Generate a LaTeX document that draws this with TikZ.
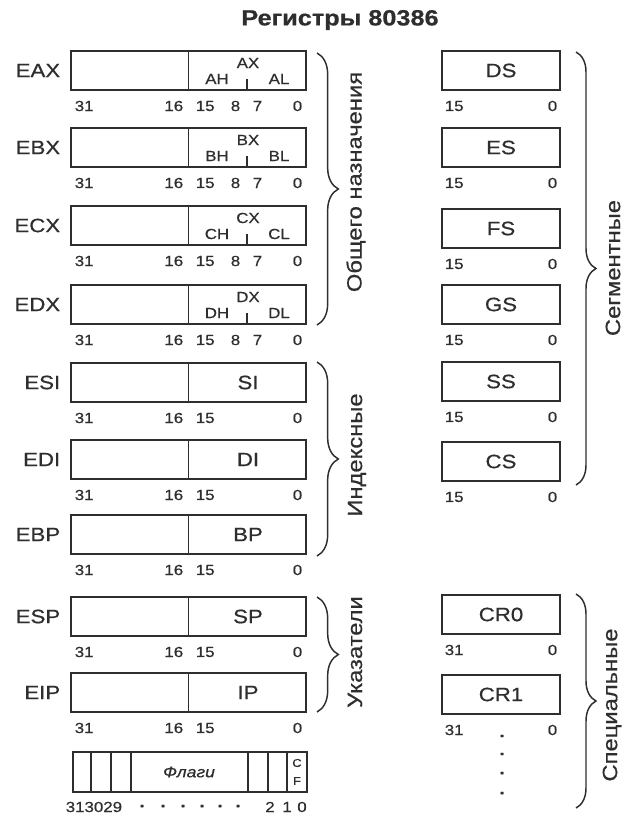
\documentclass[tikz,border=0pt]{standalone}
\usepackage{fontspec}
\setmainfont[FakeStretch=1.15,FakeBold=0.6]{Liberation Sans}
\usetikzlibrary{decorations.pathreplacing,calc}
\definecolor{ink}{HTML}{2E2E2E}
\begin{document}
\begin{tikzpicture}[x=0.75pt,y=-0.75pt,line width=1.2pt,draw=ink,text=ink,
  lreg/.style={draw=ink,minimum width=176.25pt,minimum height=29.25pt,inner sep=0pt,outer sep=0pt},
  rreg/.style={draw=ink,minimum width=88.5pt,minimum height=29.25pt,inner sep=0pt,outer sep=0pt,font=\fontsize{14.5}{15}\selectfont},
  reglab/.style={font=\fontsize{14.5}{15}\selectfont,anchor=east,inner sep=0pt},
  inlab/.style={font=\fontsize{14.5}{15}\selectfont,inner sep=0pt},
  sublab/.style={font=\fontsize{11}{11}\selectfont,inner sep=0pt},
  bitlab/.style={font=\fontsize{11}{12}\selectfont,inner sep=0pt},
  dotlab/.style={font=\bfseries\fontsize{12}{12}\selectfont,inner sep=0pt},
  sidelab/.style={font=\fontsize{15.5}{16}\selectfont,rotate=90,inner sep=0pt},
  bracedeco/.style={decorate,decoration={brace,amplitude=#1},line width=1.1pt}]
\useasboundingbox (0,0) rectangle (628,818);
% title
\node[font=\bfseries\fontsize{16.5}{17}\selectfont] (title) at (340,20) {Регистры 80386};
% general purpose registers
\foreach \n/\y/\a in {eax/51/A, ebx/128/B, ecx/206/C, edx/285/D} {
  \node[lreg] (\n) at (188.5,\y+19.5) {};
  \node[reglab] (\n-name) at (61,\y+19.5) {E\a X};
  \draw (\n.north) -- (\n.south);
  \coordinate (\n-mid) at ($(\n.south)!.5!(\n.south east)$);
  \draw (\n-mid) -- ++(0,-11);
  \node[sublab] (\n-x) at (248,\y+12) {\a X};
  \node[sublab] (\n-h) at (217,\y+28) {\a H};
  \node[sublab] (\n-l) at (279,\y+28) {\a L};
  \node[bitlab,anchor=west] (\n-b31) at (74,\y+55) {31};
  \node[bitlab,anchor=east] (\n-b16) at (184,\y+55) {16};
  \node[bitlab,anchor=west] (\n-b15) at (195,\y+55) {15};
  \node[bitlab,anchor=east] (\n-b8) at (241,\y+55) {8};
  \node[bitlab,anchor=west] (\n-b7) at (252,\y+55) {7};
  \node[bitlab,anchor=east] (\n-b0) at (303,\y+55) {0};
}
% index / pointer registers
\foreach \n/\y/\a in {esi/363/SI, edi/440/DI, ebp/515/BP, esp/597/SP, eip/673/IP} {
  \node[lreg] (\n) at (188.5,\y+19.5) {};
  \node[reglab] (\n-name) at (61,\y+19.5) {E\a};
  \draw (\n.north) -- (\n.south);
  \node[inlab] (\n-x) at (248,\y+19.5) {\a};
  \node[bitlab,anchor=west] (\n-b31) at (74,\y+55) {31};
  \node[bitlab,anchor=east] (\n-b16) at (184,\y+55) {16};
  \node[bitlab,anchor=west] (\n-b15) at (195,\y+55) {15};
  \node[bitlab,anchor=east] (\n-b0) at (303,\y+55) {0};
}
% flags
\node[draw=ink,minimum width=175.5pt,minimum height=30pt,inner sep=0pt,outer sep=0pt] (flags) at (190,772) {};
\foreach \x in {91,111,131,248,268,287} \draw (\x,752) -- (\x,792);
\node[font=\itshape\fontsize{11.5}{12}\selectfont,inner sep=0pt] (flags-t) at (189,772) {Флаги};
\node[font=\fontsize{8.5}{9}\selectfont,inner sep=0pt] (flags-c) at (297,763) {C};
\node[font=\fontsize{8.5}{9}\selectfont,inner sep=0pt] (flags-f) at (297,781) {F};
\node[bitlab,anchor=west] (fb31) at (65,807) {313029};
\foreach \x [count=\i] in {142,163,183,202,220,238} \node[dotlab] (fd\i) at (\x,806) {.};
\node[bitlab] (fb2) at (270,807) {2};
\node[bitlab] (fb1) at (287,807) {1};
\node[bitlab] (fb0) at (302,807) {0};
% segment registers
\foreach \n/\y/\a in {ds/51/DS, es/128/ES, fs/209/FS, gs/285/GS, ss/362/SS, cs/442/CS} {
  \node[rreg] (\n) at (501,\y+19.5) {\a};
  \node[bitlab,anchor=west] (\n-b15) at (444,\y+55) {15};
  \node[bitlab,anchor=east] (\n-b0) at (558,\y+55) {0};
}
% control registers
\foreach \n/\y/\a in {cr0/595/CR0, cr1/675/CR1} {
  \node[rreg] (\n) at (501,\y+19.5) {\a};
  \node[bitlab,anchor=west] (\n-b31) at (444,\y+55) {31};
  \node[bitlab,anchor=east] (\n-b0) at (558,\y+55) {0};
}
\foreach \yy [count=\i] in {740,758,777,797} \node[dotlab] (crd\i) at (502,\yy-4) {.};
% braces
\draw[bracedeco=16pt] (317,53) -- (317,325);
\draw[bracedeco=16pt] (317,362) -- (317,556);
\draw[bracedeco=16pt] (317,597) -- (317,712);
\draw[bracedeco=15pt] (576,52) -- (576,485);
\draw[bracedeco=15pt] (576,594) -- (576,808);
% side labels
\node[sidelab] (gp) at (356,182) {Общего назначения};
\node[sidelab] (ix) at (357,455) {Индексные};
\node[sidelab] (pt) at (355,652) {Указатели};
\node[sidelab] (sg) at (613,268) {Сегментные};
\node[sidelab] (sp) at (612,705) {Специальные};
\end{tikzpicture}
\end{document}
